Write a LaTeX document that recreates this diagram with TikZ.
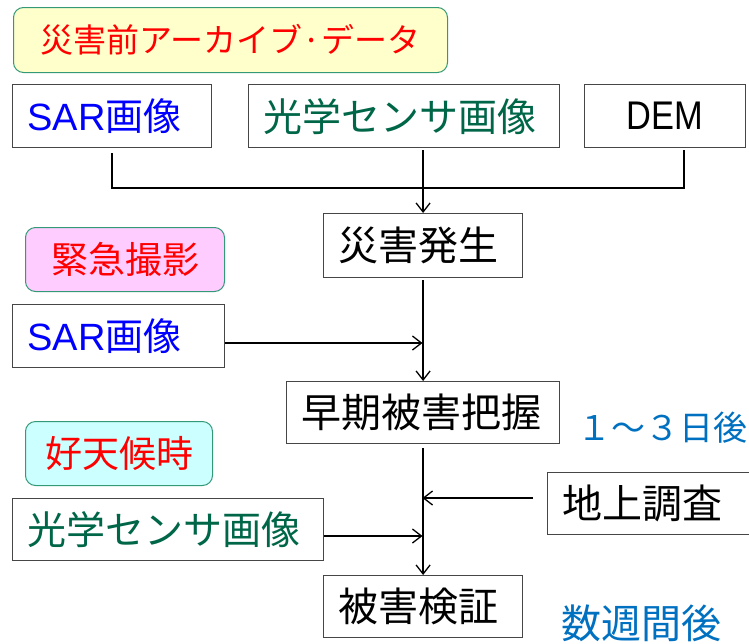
\documentclass[tikz,border=0pt]{standalone}
\usepackage{fontspec}
\setmainfont{Noto Sans CJK JP}
\newfontfamily\latf{Liberation Sans}
\newfontfamily\latn[FakeStretch=0.86]{Liberation Sans}
\usetikzlibrary{arrows.meta}
\definecolor{headred}{RGB}{255,0,0}
\definecolor{sarblue}{RGB}{0,0,255}
\definecolor{optgreen}{RGB}{0,102,72}
\definecolor{yelfill}{RGB}{255,255,204}
\definecolor{pinkfill}{RGB}{255,204,255}
\definecolor{cyanfill}{RGB}{204,255,255}
\definecolor{rborder}{RGB}{51,153,119}
\definecolor{boxgray}{RGB}{70,70,70}
\definecolor{timeblue}{RGB}{0,112,192}
\newcommand\fsz[1]{\fontsize{#1}{#1}\selectfont}
\tikzset{
  rbox/.style={draw=rborder, line width=1pt, rounded corners=10pt, anchor=north west, inner sep=0pt, align=center},
  sbox/.style={draw=boxgray, line width=1.2pt, fill=white, anchor=north west, inner xsep=15pt, inner ysep=0pt, align=left},
  conn/.style={draw=black, line width=1.3pt},
  arr/.style={-{Straight Barb[length=9pt,width=14pt]}},
}
\begin{document}
\begin{tikzpicture}[x=1pt,y=-1pt]
\useasboundingbox (0,0) rectangle (749,643);
% rounded labels
\node[rbox, fill=yelfill, minimum width=434pt, minimum height=65pt, font=\fsz{33}, text=headred] (arch) at (13,7) {災害前アーカイブ·データ};
\node[rbox, fill=pinkfill, minimum width=199pt, minimum height=64pt, font=\fsz{37}, text=headred] (kinkyu) at (25,227) {緊急撮影};
\node[rbox, fill=cyanfill, minimum width=187pt, minimum height=64pt, font=\fsz{37}, text=headred] (tenko) at (25,421) {好天候時};
% boxes
\node[sbox, text width=169pt, minimum height=63pt, font=\fsz{38}, text=sarblue] (sar1) at (12,84) {{\latf SAR}画像};
\node[sbox, text width=281pt, minimum height=63pt, font=\fsz{39}, text=optgreen] (opt1) at (248,84) {光学センサ画像};
\node[sbox, text width=131pt, minimum height=63pt, font=\fsz{40}\latn, align=center] (dem) at (584,84) {DEM};
\node[sbox, text width=169pt, minimum height=64pt, font=\fsz{40}] (dis) at (323,213) {災害発生};
\node[sbox, text width=182pt, minimum height=63pt, font=\fsz{38}, text=sarblue] (sar2) at (12,304) {{\latf SAR}画像};
\node[sbox, text width=243pt, minimum height=62pt, font=\fsz{40}] (early) at (286,381) {早期被害把握};
\node[sbox, text width=281pt, minimum height=62pt, font=\fsz{39}, text=optgreen] (opt2) at (12,498) {光学センサ画像};
\node[sbox, text width=193pt, minimum height=62pt, font=\fsz{40}] (ground) at (547,472) {地上調査};
\node[sbox, text width=169pt, minimum height=62pt, font=\fsz{40}] (verify) at (323,575) {被害検証};
% time labels
\node[font=\fsz{34}, text=timeblue] (t1) at (662,428) {１～３日後};
\node[font=\fsz{40}, text=timeblue] (t2) at (641,623) {数週間後};
% connectors
\coordinate (hR) at (684,188);
\draw[conn] ([yshift=-5pt]sar1.south) |- (hR) -- ([yshift=-2pt]dem.south -| hR);
\draw[conn,arr] ([yshift=-2pt]opt1.south -| dis.north) -- (dis.north);
\draw[conn,arr] ([yshift=-2pt]dis.south) -- (early.north);
\coordinate (j1) at (422.5,343);
\draw[conn,arr] (sar2.east |- j1) -- (j1);
\draw[conn,arr] ([yshift=-4pt]early.south) -- (verify.north);
\coordinate (j2) at (422.5,498);
\draw[conn,arr] ([xshift=-14pt]ground.west |- j2) -- (j2);
\coordinate (j3) at (422.5,536);
\draw[conn,arr] (opt2.east |- j3) -- (j3);
\end{tikzpicture}
\end{document}
